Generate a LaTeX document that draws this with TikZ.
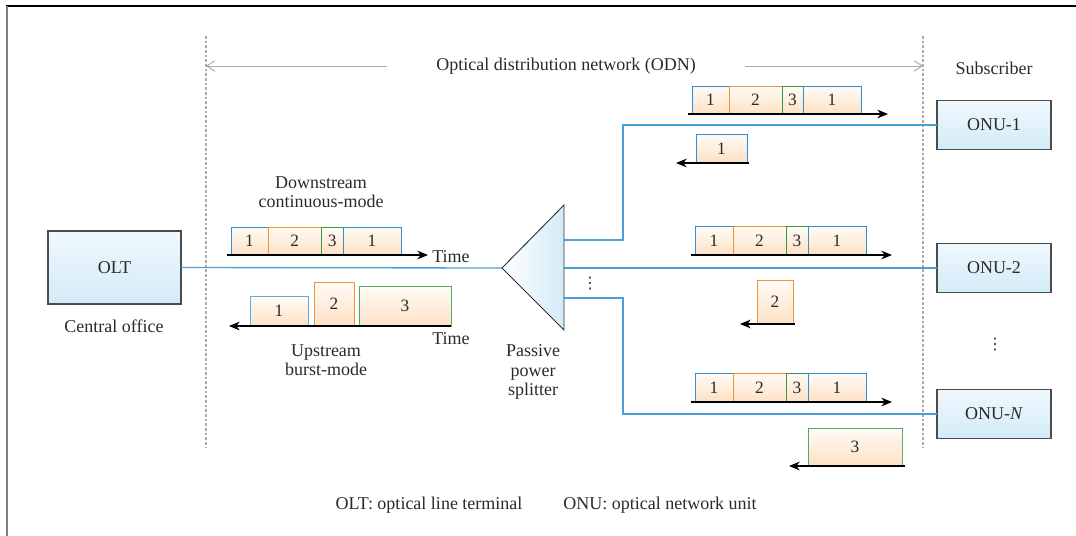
\documentclass[tikz,border=0pt]{standalone}
\usepackage{fontspec}
\setmainfont{Liberation Serif}
\newfontfamily\dvsans{DejaVu Sans}
\usetikzlibrary{arrows.meta}
\definecolor{txt}{HTML}{2A2A2A}
\definecolor{fib}{HTML}{4A9FD8}
\definecolor{cb}{HTML}{2D8FD5}
\definecolor{cbl}{HTML}{5AAEE2}
\definecolor{co}{HTML}{EE9433}
\definecolor{cg}{HTML}{2E9A4A}
\definecolor{cgl}{HTML}{55AA68}
\definecolor{peachT}{HTML}{FFFBF6}
\definecolor{peachB}{HTML}{FDE1C4}
\definecolor{blueT}{HTML}{F0F8FD}
\definecolor{blueB}{HTML}{D3EBF8}
\definecolor{gridc}{HTML}{AAAAAA}
\newcommand\pkt[7]{\node[pkt,draw=#6,minimum width={(#3-#2)*0.75pt},minimum height={(#5-#4)*0.75pt}] (#1) at ({(#2+#3)/2},{(#4+#5)/2}) {#7};}
\tikzset{
  pkt/.style={inner sep=0pt, outer sep=0pt, top color=peachT, bottom color=peachB, line width=0.6pt, font=\fontsize{13}{15}\selectfont, text=txt},
  unit/.style={draw=black!70, line width=0.8pt, top color=blueT, bottom color=blueB, minimum width=114*0.75pt, minimum height=49*0.75pt, inner sep=0pt, outer sep=0pt, text=txt, font=\fontsize{13.5}{15}\selectfont},
  fiber/.style={draw=fib, line width=1pt},
  axis/.style={draw=black, line width=0.8pt, -{Stealth[length=8pt,width=6.5pt,inset=2.5pt]}},
  odnarrow/.style={draw=gridc, line width=0.7pt, -{Straight Barb[length=6pt,width=8pt]}},
  divider/.style={draw=gridc, line width=0.8pt, dash pattern=on 2pt off 1.5pt},
  lbl/.style={text=txt, font=\fontsize{13.5}{14.3}\selectfont, align=center, inner sep=0pt},
  dots/.style={text=txt, font=\dvsans\fontsize{12}{14}\selectfont, inner sep=0pt}
}
\begin{document}
\begin{tikzpicture}[x=0.75pt,y=-0.75pt]
\useasboundingbox (0,0) rectangle (1076,536);
% outer frame
\coordinate (fr-tl) at (6,6);
\coordinate (fr-tr) at (1076,6);
\coordinate (fl-t) at (7,6);
\coordinate (fl-b) at (7,536);
\draw[line width=1.2pt, black] (fr-tl) -- (fr-tr);
\draw[line width=2pt, black!50] (fl-t) -- (fl-b);

% dividers
\coordinate (dl-t) at (206,36); \coordinate (dl-b) at (206,448);
\coordinate (dr-t) at (923,36); \coordinate (dr-b) at (923,448);
\draw[divider] (dl-t) -- (dl-b);
\draw[divider] (dr-t) -- (dr-b);

% ODN label
\node[lbl] (odn) at (566,66) {Optical distribution network (ODN)};
\coordinate (odn-l0) at (387,66); \coordinate (odn-l1) at (206,66);
\coordinate (odn-r0) at (745,66); \coordinate (odn-r1) at (923,66);
\draw[odnarrow] (odn-l0) -- (odn-l1);
\draw[odnarrow] (odn-r0) -- (odn-r1);
\node[lbl] (sub) at (994,68) {Subscriber};

% OLT
\node[unit, minimum width=133*0.75pt, minimum height=73*0.75pt] (olt) at (114.5,267.5) {OLT};
\node[lbl] (co) at (114,326) {Central office};

% ONUs
\node[unit] (onu1) at (994,125) {ONU-1};
\node[unit] (onu2) at (994,268) {ONU-2};
\node[unit] (onuN) at (994,414) {ONU-\textit{N}};
\node[dots] (vd2) at (995,345) {⋮};

% splitter
\coordinate (sptip) at (502,268);
\coordinate (sptop) at (564,205);
\coordinate (spbot) at (564,330);
\coordinate (b1) at (564,240);
\coordinate (b2) at (564,268);
\coordinate (b3) at (564,298);
\draw[fiber] (olt.east) -- (sptip);
\draw[fiber] (b1) -- ++(59,0) |- (onu1.west);
\draw[fiber] (b2) -- (onu2.west);
\draw[fiber] (b3) -- ++(59,0) |- (onuN.west);
\path[draw=black!80, line width=0.7pt, left color=white, right color=blueB] (sptip) -- (sptop) -- (spbot) -- cycle;
\node[dots] (vd1) at (590,284) {⋮};
\node[lbl] (psp) at (533,372) {Passive\\power\\splitter};

% OLT side downstream
\node[lbl] (dsl) at (321,192) {Downstream\\continuous-mode};
\pkt{da1}{231}{268}{227}{255}{cb}{1}
\pkt{da2}{268}{321.5}{227}{255}{co}{2}
\pkt{da3}{321.5}{343}{227}{255}{cg}{3}
\pkt{da4}{343}{401}{227}{255}{cb}{1}
\coordinate (axa0) at (227,255); \coordinate (axa1) at (428,255);
\draw[axis] (axa0) -- (axa1);
\node[lbl] (time1) at (451,257) {Time};

% OLT side upstream
\pkt{ua1}{250}{308}{296}{326}{cbl}{1}
\pkt{ua2}{314}{354}{282}{326}{co}{2}
\pkt{ua3}{359}{451}{286}{326}{cgl}{3}
\coordinate (axb0) at (451,326); \coordinate (axb1) at (229,326);
\draw[axis] (axb0) -- (axb1);
\node[lbl] (time2) at (451,339) {Time};
\node[lbl] (usl) at (326,360) {Upstream\\burst-mode};

% ONU-1
\pkt{d1a}{692}{729}{86}{114}{cb}{1}
\pkt{d1b}{729}{782}{86}{114}{co}{2}
\pkt{d1c}{782}{803}{86}{114}{cg}{3}
\pkt{d1d}{803}{861}{86}{114}{cb}{1}
\coordinate (ax10) at (688,114); \coordinate (ax11) at (888,114);
\draw[axis] (ax10) -- (ax11);
\pkt{u1}{696}{747}{134}{163}{cb}{1}
\coordinate (ax12) at (749,163); \coordinate (ax13) at (676,163);
\draw[axis] (ax12) -- (ax13);

% ONU-2
\pkt{d2a}{695}{733}{226}{255}{cb}{1}
\pkt{d2b}{733}{786}{226}{255}{co}{2}
\pkt{d2c}{786}{808}{226}{255}{cg}{3}
\pkt{d2d}{808}{866}{226}{255}{cb}{1}
\coordinate (ax20) at (691,255); \coordinate (ax21) at (892,255);
\draw[axis] (ax20) -- (ax21);
\pkt{u2}{757}{793}{280}{324}{co}{2}
\coordinate (ax22) at (795,324); \coordinate (ax23) at (740,324);
\draw[axis] (ax22) -- (ax23);

% ONU-N
\pkt{dNa}{695}{733}{373}{402}{cb}{1}
\pkt{dNb}{733}{786}{373}{402}{co}{2}
\pkt{dNc}{786}{808}{373}{402}{cg}{3}
\pkt{dNd}{808}{866}{373}{402}{cb}{1}
\coordinate (axN0) at (691,402); \coordinate (axN1) at (892,402);
\draw[axis] (axN0) -- (axN1);
\pkt{uN}{808}{902}{428}{466}{cgl}{3}
\coordinate (axN2) at (905,466); \coordinate (axN3) at (789,466);
\draw[axis] (axN2) -- (axN3);

% legend
\node[lbl] (leg1) at (429,505) {OLT: optical line terminal};
\node[lbl] (leg2) at (660,505) {ONU: optical network unit};
\end{tikzpicture}
\end{document}
